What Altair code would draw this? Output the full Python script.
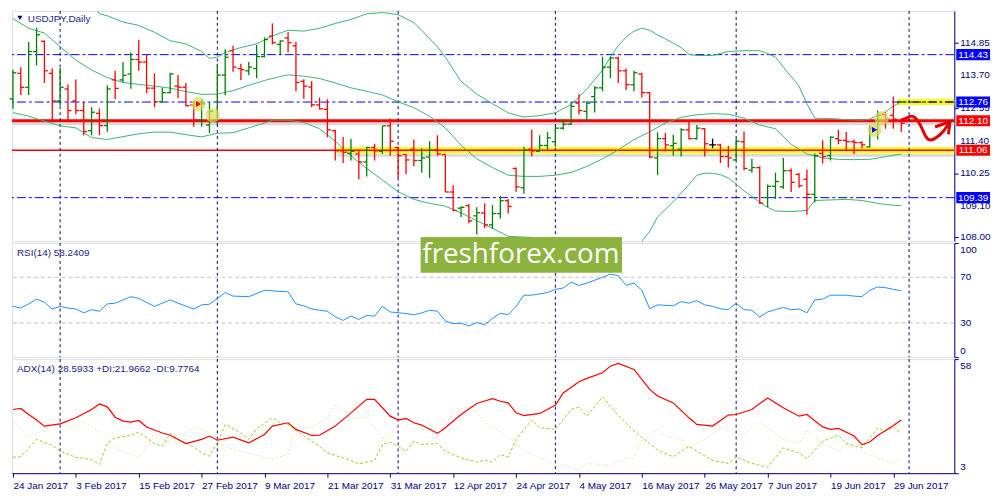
import altair as alt
import pandas as pd
import numpy as np

# ------------------------------------------------------------------ data
date_labels = ["24 Jan 2017", "3 Feb 2017", "15 Feb 2017", "27 Feb 2017", "9 Mar 2017",
               "21 Mar 2017", "31 Mar 2017", "12 Apr 2017", "24 Apr 2017", "4 May 2017",
               "16 May 2017", "26 May 2017", "7 Jun 2017", "19 Jun 2017", "29 Jun 2017"]

opens = [112.87, 113.77, 113.28, 114.54, 114.90, 113.77, 112.80, 113.22, 112.80, 112.46,
         111.75, 112.36, 111.93, 113.54, 113.54, 113.75, 114.26, 114.17, 113.25, 112.77,
         113.09, 113.32, 113.28, 112.66, 112.12, 111.95, 112.07, 113.71, 114.57, 113.94,
         113.86, 113.94, 114.36, 115.08, 114.79, 115.02, 114.74, 113.49, 113.29, 112.66,
         112.50, 111.75, 111.04, 110.95, 110.93, 110.65, 111.16, 111.02, 111.92, 111.16,
         110.91, 111.10, 110.70, 110.82, 111.07, 110.91, 109.59, 109.02, 109.11, 108.75,
         108.85, 108.43, 108.83, 109.28, 110.42, 109.74, 111.10, 111.02, 111.23, 111.36,
         111.84, 111.98, 112.72, 112.43, 112.95, 113.26, 113.99, 114.31, 113.86, 113.37,
         113.75, 113.09, 110.79, 111.47, 111.22, 111.10, 111.78, 111.47, 111.82, 111.25,
         111.25, 110.84, 110.72, 111.36, 110.36, 110.45, 109.39, 109.79, 109.77, 110.34,
         110.21, 110.04, 109.51, 110.95, 110.87, 111.47, 111.41, 111.36, 111.33, 111.18,
         111.78, 112.32, 112.29, 112.09]
highs = [113.90, 113.99, 114.88, 115.38, 114.93, 113.94, 113.96, 113.38, 113.55, 112.77,
         112.58, 112.53, 113.35, 113.86, 114.17, 114.51, 114.95, 114.43, 113.77, 113.26,
         113.79, 113.71, 113.43, 112.80, 112.86, 112.75, 114.11, 114.62, 114.74, 114.11,
         114.17, 114.77, 115.04, 115.53, 114.93, 115.22, 114.88, 113.56, 113.49, 112.92,
         112.86, 111.78, 111.53, 111.47, 111.07, 111.18, 111.29, 111.92, 112.18, 111.18,
         110.93, 111.44, 111.13, 111.38, 111.59, 110.91, 109.83, 109.08, 109.17, 109.05,
         109.19, 109.13, 109.45, 109.34, 110.45, 111.18, 111.78, 111.59, 111.70, 111.89,
         112.16, 112.75, 113.03, 112.80, 113.32, 114.36, 114.36, 114.36, 113.94, 113.86,
         113.79, 113.11, 111.70, 111.67, 111.61, 111.84, 112.12, 111.95, 111.84, 111.47,
         111.29, 111.21, 111.47, 111.72, 110.76, 110.50, 109.85, 110.27, 110.79, 110.42,
         110.25, 110.38, 110.95, 111.41, 111.55, 111.78, 111.70, 111.44, 111.38, 111.95,
         112.46, 112.40, 112.95, 112.18]
lows = [112.52, 113.01, 113.01, 114.05, 113.43, 112.09, 112.63, 112.05, 112.33, 111.59,
        111.59, 111.59, 111.71, 112.86, 113.46, 113.23, 113.86, 113.07, 112.58, 112.77,
        113.07, 112.90, 112.61, 111.89, 111.89, 111.67, 111.95, 113.00, 113.83, 113.54,
        113.71, 113.60, 114.34, 114.79, 114.45, 114.51, 113.14, 112.88, 112.58, 112.50,
        111.52, 110.70, 110.61, 110.70, 110.04, 110.14, 110.70, 110.93, 110.87, 110.08,
        110.22, 110.50, 110.27, 110.08, 110.87, 109.59, 108.91, 108.71, 108.49, 108.09,
        108.32, 108.29, 108.66, 108.83, 109.60, 109.53, 110.84, 111.02, 111.07, 111.18,
        111.78, 111.95, 112.32, 112.06, 112.39, 113.14, 113.60, 113.43, 113.18, 113.14,
        112.92, 110.79, 110.19, 111.02, 110.87, 110.84, 111.44, 111.44, 110.84, 111.13,
        110.61, 110.45, 110.70, 110.36, 110.27, 109.17, 109.05, 109.34, 109.70, 109.59,
        109.74, 108.79, 109.22, 110.59, 110.70, 111.27, 111.04, 110.93, 111.13, 111.16,
        111.44, 111.82, 111.82, 111.70]
closes = [113.79, 113.28, 114.54, 115.13, 113.86, 112.80, 113.28, 112.46, 112.46, 111.72,
          112.40, 111.93, 113.22, 113.24, 113.70, 114.26, 114.17, 113.25, 112.77, 113.09,
          113.75, 113.28, 112.63, 112.12, 112.70, 112.43, 113.71, 114.34, 113.99, 113.90,
          113.99, 114.36, 114.96, 114.85, 114.91, 114.85, 113.45, 113.32, 112.66, 112.52,
          111.78, 111.04, 110.99, 111.02, 110.65, 111.16, 111.04, 111.92, 111.38, 110.87,
          110.72, 110.70, 110.79, 111.07, 110.93, 109.59, 108.94, 109.05, 108.57, 108.86,
          108.43, 108.83, 109.28, 109.08, 109.77, 111.07, 111.04, 111.23, 111.50, 111.84,
          111.98, 112.61, 112.46, 112.72, 113.26, 113.99, 114.31, 113.86, 113.37, 113.79,
          113.09, 110.82, 111.47, 111.25, 111.30, 111.78, 111.47, 111.84, 111.29, 111.25,
          110.84, 110.79, 111.38, 110.42, 110.45, 109.20, 109.79, 109.96, 110.34, 109.93,
          109.81, 109.51, 110.87, 110.84, 111.52, 111.41, 111.36, 111.33, 111.25, 111.84,
          112.29, 112.16, 112.16, 112.01]

bb_upper_i = [0, 4, 8, 10, 11, 12, 14, 16, 18, 20, 22, 24, 25, 26, 27, 29, 31, 33, 35, 37,
              39, 41, 43, 45, 47, 49, 51, 52, 53, 54, 55, 57, 59, 61, 63, 65, 67, 69, 71, 73,
              75, 76, 77, 78, 79, 80, 81, 82, 83, 85, 86, 87, 89, 90, 91, 93, 95, 96, 97, 98,
              99, 100, 101, 102, 104, 106, 108, 109, 110, 111, 112, 113]
bb_upper = [119.0, 118.3, 116.6, 116.3, 115.87, 115.80, 115.58, 115.46, 115.22, 114.92,
            114.81, 114.54, 114.30, 114.34, 114.51, 114.68, 114.81, 115.09, 115.29, 115.26,
            115.36, 115.53, 115.67, 115.87, 115.91, 115.84, 115.56, 115.29, 114.99, 114.71,
            114.34, 113.49, 113.04, 112.70, 112.38, 112.23, 112.28, 112.38, 112.67, 113.21,
            113.89, 114.34, 114.75, 115.05, 115.26, 115.36, 115.29, 115.12, 114.99, 114.68,
            114.44, 114.40, 114.40, 114.47, 114.54, 114.57, 114.57, 114.47, 114.34, 113.99,
            113.66, 113.32, 112.70, 112.19, 112.18, 112.14, 112.12, 112.16, 112.29, 112.41,
            112.62, 112.77]
bb_mid_i = [0, 2, 4, 6, 8, 10, 12, 14, 16, 18, 20, 22, 24, 26, 28, 30, 32, 34, 35, 37,
            39, 41, 43, 45, 47, 49, 51, 53, 55, 57, 59, 61, 63, 65, 67, 69, 71, 73, 75, 77,
            79, 81, 83, 85, 87, 89, 91, 93, 95, 97, 99, 101, 103, 105, 107, 109, 111, 113]
bb_mid = [115.70, 115.36, 115.19, 114.71, 114.24, 113.89, 113.62, 113.45, 113.38, 113.32,
          113.25, 113.13, 113.03, 113.04, 113.16, 113.35, 113.52, 113.66, 113.72, 113.67,
          113.59, 113.43, 113.26, 113.14, 113.01, 112.77, 112.56, 112.26, 111.85, 111.24,
          110.76, 110.45, 110.18, 110.14, 110.14, 110.18, 110.28, 110.49, 110.76, 111.07,
          111.44, 111.71, 112.02, 112.22, 112.31, 112.35, 112.33, 112.19, 111.95, 111.82,
          111.27, 110.93, 110.79, 110.74, 110.73, 110.74, 110.83, 110.93]
bb_lower_i = [0, 2, 4, 6, 8, 9, 10, 12, 14, 16, 18, 20, 22, 24, 26, 28, 30, 32, 33, 35,
              37, 39, 41, 43, 45, 47, 49, 51, 53, 55, 57, 59, 61, 63, 65, 67, 69, 71, 73, 75,
              77, 79, 80, 81, 82, 83, 84, 85, 86, 87, 88, 89, 90, 91, 92, 93, 94, 95, 96, 97,
              99, 101, 102, 104, 106, 108, 110, 112, 113]
bb_lower = [112.39, 112.26, 112.09, 111.92, 111.85, 111.68, 111.51, 111.44, 111.54, 111.64,
            111.70, 111.70, 111.61, 111.53, 111.66, 111.68, 111.85, 112.02, 112.12, 112.12,
            112.04, 111.82, 111.38, 110.86, 110.42, 110.01, 109.60, 109.33, 109.19, 109.09,
            108.85, 108.58, 108.31, 108.03, 108.00, 107.98, 107.98, 107.90, 107.77, 107.63,
            107.40, 107.60, 107.85, 108.20, 108.71, 108.98, 109.25, 109.55, 109.85, 110.18,
            110.25, 110.25, 110.20, 110.08, 109.87, 109.63, 109.43, 109.23, 109.05, 108.92,
            108.90, 108.94, 109.29, 109.31, 109.33, 109.29, 109.19, 109.12, 109.11]

rsi_i = [0, 1, 2, 3, 4, 5, 6, 7, 8, 9, 10, 11, 12, 13, 14, 15, 16, 18, 20, 21,
         23, 24, 25, 26, 27, 28, 30, 32, 33, 35, 36, 37, 38, 40, 41, 42, 43, 44, 45, 46,
         47, 48, 50, 51, 52, 53, 54, 55, 56, 57, 58, 59, 60, 61, 62, 63, 64, 65, 66, 68,
         69, 70, 71, 72, 73, 75, 76, 77, 78, 79, 80, 81, 82, 84, 85, 86, 87, 88, 89, 90,
         91, 92, 93, 94, 95, 96, 97, 98, 99, 100, 101, 102, 103, 104, 106, 107, 108, 109, 110, 111,
         112, 113]
rsi_v = [44.5, 43.0, 46.7, 50.9, 48.1, 42.2, 44.5, 43.0, 42.2, 38.8, 41.6, 40.2, 46.7, 47.3, 50.1, 53.0, 51.5, 44.5, 50.1, 47.3,
         42.2, 45.8, 46.4, 51.5, 56.6, 53.5, 53.0, 58.6, 58.1, 57.2, 46.7, 45.0, 42.2, 40.2, 35.4, 32.2, 36.0, 33.1, 36.5, 36.0,
         44.5, 39.6, 38.2, 37.1, 38.8, 41.1, 40.2, 31.7, 29.4, 29.7, 27.4, 30.3, 28.3, 33.9, 38.5, 37.3, 44.5, 54.3, 54.3, 56.6,
         59.4, 60.6, 65.7, 62.9, 64.9, 70.0, 72.8, 71.4, 62.9, 64.9, 58.6, 42.4, 45.8, 45.0, 48.7, 47.3, 49.6, 45.8, 44.5, 42.4,
         41.6, 47.3, 41.6, 41.1, 35.1, 39.6, 41.6, 43.6, 41.6, 42.2, 38.8, 50.1, 50.9, 54.3, 54.3, 53.5, 53.0, 58.6, 61.5, 60.9,
         59.4, 58.2]

adx_i = [0, 1, 2, 3, 4, 6, 8, 10, 11, 12, 13, 14, 15, 16, 17, 19, 20, 22, 24, 25,
         26, 28, 30, 32, 33, 35, 36, 38, 39, 41, 43, 45, 46, 48, 49, 50, 51, 52, 54, 55,
         57, 59, 61, 62, 63, 64, 65, 67, 69, 70, 72, 73, 75, 76, 77, 79, 80, 81, 82, 84,
         86, 87, 89, 91, 92, 94, 96, 98, 100, 101, 103, 104, 105, 107, 108, 109, 110, 112, 113]
adx_v = [33.7, 34.2, 31.3, 28.6, 25.7, 26.8, 29.7, 33.7, 36.4, 35.0, 30.0, 28.1, 27.6, 28.4, 25.3, 22.4, 21.3, 17.3, 19.3, 20.9,
         18.9, 20.4, 17.6, 21.7, 25.7, 27.3, 24.1, 21.2, 21.3, 25.7, 32.1, 38.6, 38.6, 30.5, 28.6, 29.4, 27.3, 26.2, 22.2, 24.9,
         31.3, 36.6, 38.9, 37.7, 36.9, 32.1, 30.8, 31.8, 35.7, 41.7, 47.1, 48.7, 51.4, 54.6, 55.9, 53.0, 48.2, 43.4, 40.2, 36.9,
         29.7, 26.5, 25.7, 31.0, 31.3, 33.7, 39.3, 34.5, 30.5, 31.3, 25.3, 24.1, 24.6, 20.9, 16.8, 18.0, 21.2, 26.0, 28.6]
pdi_i = [0, 1, 2, 3, 5, 6, 8, 10, 11, 12, 13, 15, 16, 17, 18, 19, 20, 21, 23, 24,
         25, 26, 27, 29, 30, 31, 33, 34, 35, 37, 39, 40, 42, 44, 46, 47, 48, 49, 50, 51,
         52, 54, 55, 57, 59, 60, 61, 62, 63, 64, 66, 67, 69, 71, 72, 73, 75, 77, 79, 81,
         82, 84, 86, 87, 89, 91, 92, 94, 96, 98, 100, 101, 103, 105, 106, 108, 110, 111, 112, 113]
pdi_v = [10.7, 10.9, 15.2, 19.3, 16.4, 13.6, 10.7, 9.6, 7.2, 17.3, 20.0, 21.2, 22.8, 20.0, 17.3, 16.0, 22.2, 19.3, 15.7, 12.8,
         11.2, 17.6, 26.5, 22.4, 19.3, 24.4, 29.7, 27.3, 26.5, 20.9, 16.0, 12.8, 10.4, 7.5, 9.1, 16.8, 18.0, 16.0, 13.6, 18.4,
         16.8, 17.3, 13.6, 10.4, 8.3, 9.3, 8.3, 12.0, 10.7, 19.3, 28.6, 24.9, 24.1, 33.7, 34.8, 30.5, 39.8, 30.8, 23.3, 17.3,
         14.1, 10.9, 16.0, 13.6, 9.1, 7.7, 10.9, 7.7, 5.9, 15.2, 12.8, 9.9, 18.4, 21.3, 17.3, 15.2, 24.9, 23.3, 25.3, 22.0]
mdi_i = [0, 2, 4, 5, 6, 8, 9, 11, 13, 16, 17, 18, 20, 21, 23, 25, 26, 28, 30, 33,
         35, 36, 38, 40, 41, 43, 45, 46, 47, 49, 50, 52, 54, 55, 56, 58, 59, 60, 62, 64,
         65, 67, 69, 72, 73, 75, 76, 78, 79, 80, 82, 83, 85, 86, 88, 90, 91, 92, 93, 95,
         96, 98, 100, 101, 103, 105, 106, 108, 110, 112, 113]
mdi_v = [27.6, 20.9, 23.7, 29.7, 27.3, 24.1, 28.1, 23.3, 15.2, 10.4, 16.0, 22.4, 17.3, 18.9, 25.2, 22.2, 18.0, 14.4, 12.8, 9.6,
         12.3, 24.9, 25.2, 29.7, 36.1, 29.4, 30.2, 24.9, 19.3, 25.7, 29.7, 24.9, 22.4, 24.5, 33.5, 34.8, 32.1, 27.3, 23.2, 17.3,
         14.1, 10.4, 7.2, 4.8, 7.7, 7.2, 6.4, 10.4, 10.4, 19.3, 24.1, 20.9, 19.3, 15.2, 19.3, 25.3, 23.3, 21.7, 21.7, 28.1,
         24.9, 19.3, 17.6, 23.3, 17.6, 13.6, 16.8, 13.6, 10.4, 7.7, 9.8]

price_ticks = [108.00, 109.10, 110.25, 111.40, 112.55, 113.70, 114.85]
blue_levels = [114.43, 112.76, 109.39]
red_thick_level = 112.10
red_level = 111.06
red_level_highlight_from = 41.25
blue_level_highlight = 112.76
blue_level_highlight_from = 112.5
box_prices = [114.43, 112.76, 112.10, 111.06, 109.39]
separator_i = [6, 26, 49, 69, 92, 114]
rsi_levels = [30, 70]
rsi_mid_ticks = [30, 70]
rsi_top_tick, rsi_bottom_tick = 100, 0
adx_top_tick, adx_bottom_tick = 58, 3

circle_i = [23.6, 25.4, 110.5, 109.6]
circle_p = [112.69, 112.29, 112.18, 111.78]
arrow_i = [113.0, 113.6, 114.2, 114.8, 115.5, 116.1, 116.7, 117.5, 118.4, 119.2]
arrow_p = [112.12, 112.18, 112.29, 112.23, 111.95, 111.50, 111.38, 111.50, 111.72, 112.07]
head_i = [117.3, 119.2, 119.0]
head_p = [111.88, 112.07, 111.62]

# ------------------------------------------------------------------ style
W = 950
H_PRICE, H_RSI, H_ADX = 232, 115, 115
X_DOMAIN = [-0.125, 119.75]
P_DOMAIN = [107.86, 115.97]
NAVY = "#000080"
UP, DOWN, DOJI = "#008000", "#FF0000", "#000000"
BB = "#3CB371"
FONT = "Liberation Sans"
FS = 10
BOX_SHAPE = "M-1,-0.33L1,-0.33L1,0.33L-1,0.33Z"
BOX_SIZE = 1156

xs = alt.Scale(domain=X_DOMAIN, nice=False, zero=False)
ps = alt.Scale(domain=P_DOMAIN, nice=False, zero=False)
rs = alt.Scale(domain=[0, 100], nice=False, zero=False)
ads = alt.Scale(domain=[3, 58], nice=False, zero=False)


def X(f):            # x without any axis (price / RSI panels)
    return alt.X(f, type="quantitative", scale=xs, axis=None, title=None)


def XA(f):           # x whose axis comes from another layer (ADX panel)
    return alt.X(f, type="quantitative", scale=xs, title=None)


def YS(f, scale):
    return alt.Y(f, type="quantitative", scale=scale, title=None)


def YP(f):
    return YS(f, ps)


def right_axis(values):
    return alt.Axis(orient="right", values=values, labels=False, domainColor=NAVY,
                    tickColor=NAVY, tickSize=4, grid=False, title=None)


def tick_labels(values, scale, baseline, dy, fmt):
    df = pd.DataFrame({"v": values})
    df["t"] = df.v.map(lambda v: format(v, fmt))
    return alt.Chart(df).mark_text(align="left", baseline=baseline, dy=dy, font=FONT,
                                   fontSize=FS, color=NAVY).encode(
        x=alt.value(W + 6), y=YS("v", scale), text="t:N")


def panel_label(text):
    return alt.Chart(pd.DataFrame({"t": [text]})).mark_text(
        align="left", baseline="middle", font=FONT, fontSize=FS, color="#1A1A80").encode(
        x=alt.value(5), y=alt.value(10), text="t:N")


one = pd.DataFrame({"k": [0]})


def separators(xf):
    return alt.Chart(pd.DataFrame({"i": separator_i})).mark_rule(
        color=NAVY, strokeWidth=1, strokeDash=[3, 3]).encode(x=xf("i"))


# ------------------------------------------------------------------ price panel
bars = pd.DataFrame({"i": range(len(opens)), "o": opens, "h": highs, "l": lows, "c": closes})
bars["col"] = np.where(bars.c > bars.o, UP, np.where(bars.c < bars.o, DOWN, DOJI))

red_hl = pd.DataFrame({"p": [red_level], "x0": [red_level_highlight_from]})
blue_hl = pd.DataFrame({"p": [blue_level_highlight], "x0": [blue_level_highlight_from]})

price_axis_layer = alt.Chart(pd.DataFrame({"p": price_ticks})).mark_tick(opacity=0).encode(
    y=alt.Y("p:Q", scale=ps, axis=right_axis(price_ticks), title=None))

shadow_thick = alt.Chart(pd.DataFrame({"p": [red_thick_level]})).mark_rule(
    color="#DADADA", strokeWidth=3, yOffset=3).encode(y=YP("p"))
shadow_red = alt.Chart(red_hl).mark_rule(color="#BBBBBB", strokeWidth=3, yOffset=5, opacity=0.55).encode(
    x=X("x0"), x2=alt.value(W), y=YP("p"))
yellow_red = alt.Chart(red_hl).mark_rule(color="#FFFF00", strokeWidth=6).encode(
    x=X("x0"), x2=alt.value(W), y=YP("p"))
yellow_blue = alt.Chart(blue_hl).mark_rule(color="#FFFF00", strokeWidth=6).encode(
    x=X("x0"), x2=alt.value(W), y=YP("p"))
blue_lines = alt.Chart(pd.DataFrame({"p": blue_levels})).mark_rule(
    color="#0000FF", strokeWidth=1, strokeDash=[9, 3, 3, 3]).encode(y=YP("p"))
red_thick = alt.Chart(pd.DataFrame({"p": [red_thick_level]})).mark_rule(
    color="#FF0000", strokeWidth=3).encode(y=YP("p"))
red_thin = alt.Chart(pd.DataFrame({"p": [red_level]})).mark_rule(
    color="#FF0000", strokeWidth=1.6).encode(y=YP("p"))
black_blue = alt.Chart(blue_hl).mark_rule(color="#000000", strokeWidth=1, strokeDash=[8, 3, 2, 3]).encode(
    x=X("x0"), x2=alt.value(W), y=YP("p"))


def band(ii, vv):
    return alt.Chart(pd.DataFrame({"i": ii, "v": vv})).mark_line(
        color=BB, strokeWidth=1, clip=True).encode(x=X("i"), y=YP("v"))


hl = alt.Chart(bars).mark_rule(strokeWidth=1.3).encode(
    x=X("i"), y=YP("l"), y2="h:Q", color=alt.Color("col:N", scale=None))
open_tick = alt.Chart(bars).mark_rule(strokeWidth=1.3, xOffset=-3.5).encode(
    x=X("i"), x2="i:Q", y=YP("o"), color=alt.Color("col:N", scale=None))
close_tick = alt.Chart(bars).mark_rule(strokeWidth=1.3, x2Offset=3.5).encode(
    x=X("i"), x2="i:Q", y=YP("c"), color=alt.Color("col:N", scale=None))

circles = alt.Chart(pd.DataFrame({"i": circle_i, "p": circle_p})).mark_circle(
    size=210, color="#DADA5A", opacity=0.7).encode(x=X("i"), y=YP("p"))
trade_marks = alt.Chart(pd.DataFrame({"i": [circle_i[0], circle_i[3]], "p": [circle_p[0], circle_p[3]],
                                      "col": ["#FF0000", "#0000FF"]})).mark_point(
    shape="triangle-right", filled=True, size=35, opacity=1).encode(
    x=X("i"), y=YP("p"), color=alt.Color("col:N", scale=None))

arrow = alt.Chart(pd.DataFrame({"i": arrow_i, "p": arrow_p})).mark_line(
    color="#E00000", strokeWidth=3, interpolate="basis").encode(x=X("i"), y=YP("p"))
head = alt.Chart(pd.DataFrame({"i": head_i, "p": head_p, "k": range(len(head_i))})).mark_line(
    color="#E00000", strokeWidth=3).encode(x=X("i"), y=YP("p"), order="k:Q")

title_tri = alt.Chart(one).mark_point(shape="triangle-down", filled=True, size=26, color=NAVY,
                                      opacity=1).encode(x=alt.value(8), y=alt.value(7))
title_txt = alt.Chart(pd.DataFrame({"t": ["USDJPY,Daily"]})).mark_text(
    align="left", baseline="middle", font=FONT, fontSize=FS, color="#25258F").encode(
    x=alt.value(16), y=alt.value(8), text="t:N")

boxes_df = pd.DataFrame({"p": box_prices})
boxes_df["lbl"] = boxes_df.p.map(lambda v: f"{v:.2f}")
boxes_df["col"] = np.where(boxes_df.p.isin([red_thick_level, red_level]), "#FF0000", "#0000FF")
box_bg = alt.Chart(boxes_df).mark_point(shape=BOX_SHAPE, filled=True, size=BOX_SIZE, opacity=1,
                                        strokeWidth=0).encode(
    x=alt.value(W + 19), y=YP("p"), color=alt.Color("col:N", scale=None))
box_txt = alt.Chart(boxes_df).mark_text(font=FONT, fontSize=FS, color="white", align="center",
                                        baseline="middle").encode(
    x=alt.value(W + 19), y=YP("p"), text="lbl:N")

price = alt.layer(
    price_axis_layer,
    shadow_thick, shadow_red, yellow_red, yellow_blue, blue_lines, red_thick, red_thin, black_blue,
    separators(X), band(bb_upper_i, bb_upper), band(bb_mid_i, bb_mid), band(bb_lower_i, bb_lower),
    hl, open_tick, close_tick, circles, trade_marks, arrow, head, title_tri, title_txt,
    tick_labels(price_ticks, ps, "middle", 0, ".2f"), box_bg, box_txt
).properties(width=W, height=H_PRICE)

# ------------------------------------------------------------------ RSI panel
rsi_all_ticks = [rsi_bottom_tick] + rsi_mid_ticks + [rsi_top_tick]
rsi_axis_layer = alt.Chart(pd.DataFrame({"v": rsi_all_ticks})).mark_tick(opacity=0).encode(
    y=alt.Y("v:Q", scale=rs, axis=right_axis(rsi_all_ticks), title=None))
rsi_line = alt.Chart(pd.DataFrame({"i": rsi_i, "v": rsi_v})).mark_line(
    color="#1E90FF", strokeWidth=1).encode(x=X("i"), y=YS("v", rs))
rsi_lv = alt.Chart(pd.DataFrame({"v": rsi_levels})).mark_rule(
    color="#C0C0C0", strokeWidth=1, strokeDash=[4, 3]).encode(y=YS("v", rs))
wm_box = alt.Chart(one).mark_rect(color="#8DB33F", opacity=1).encode(
    x=alt.value(412), x2=alt.value(615), y=alt.value(-6), y2=alt.value(30))
wm_txt = alt.Chart(pd.DataFrame({"t": ["freshforex.com"]})).mark_text(
    font="Open Sans", fontSize=28, color="white", align="center", baseline="middle").encode(
    x=alt.value(513), y=alt.value(12), text="t:N")

rsi = alt.layer(
    rsi_axis_layer, rsi_lv, separators(X), rsi_line, panel_label("RSI(14) 58.2409"),
    tick_labels(rsi_mid_ticks, rs, "middle", 0, "d"),
    tick_labels([rsi_top_tick], rs, "top", 2, "d"),
    tick_labels([rsi_bottom_tick], rs, "bottom", -1, "d"),
    wm_box, wm_txt
).properties(width=W, height=H_RSI)

# ------------------------------------------------------------------ ADX panel
label_expr = "[" + ",".join(f"'{s}'" for s in date_labels) + "][round(datum.value / 8)]"
x_axis = alt.Axis(values=list(range(0, 8 * len(date_labels), 8)), labelExpr=label_expr,
                  labelAlign="left", labelColor=NAVY, tickColor=NAVY, domainColor=NAVY,
                  tickSize=4, labelFont=FONT, labelFontSize=FS, labelPadding=3, grid=False,
                  title=None, labelFlush=False, labelOverlap=False)

adx_axis_layer = alt.Chart(pd.DataFrame({"i": [0], "v": [adx_bottom_tick]})).mark_point(opacity=0).encode(
    x=alt.X("i:Q", scale=xs, axis=x_axis, title=None),
    y=alt.Y("v:Q", scale=ads, axis=right_axis([adx_bottom_tick, adx_top_tick]), title=None))
adx_line = alt.Chart(pd.DataFrame({"i": adx_i, "v": adx_v})).mark_line(
    color="#FF0000", strokeWidth=1.2).encode(x=XA("i"), y=YS("v", ads))
pdi_line = alt.Chart(pd.DataFrame({"i": pdi_i, "v": pdi_v})).mark_line(
    color="#9ACD32", strokeWidth=1, strokeDash=[3, 2]).encode(x=XA("i"), y=YS("v", ads))
mdi_line = alt.Chart(pd.DataFrame({"i": mdi_i, "v": mdi_v})).mark_line(
    color="#F5DEB3", strokeWidth=1, strokeDash=[2, 2]).encode(x=XA("i"), y=YS("v", ads))

adx = alt.layer(
    adx_axis_layer, separators(XA), mdi_line, pdi_line, adx_line,
    panel_label("ADX(14) 28.5933 +DI:21.9662 -DI:9.7764"),
    tick_labels([adx_top_tick], ads, "top", 2, "d"),
    tick_labels([adx_bottom_tick], ads, "bottom", -1, "d")
).properties(width=W, height=H_ADX)

chart = alt.vconcat(price, rsi, adx, spacing=2, padding=0, bounds="flush").configure_view(
    stroke=NAVY, strokeWidth=1).configure(background="white")

chart.save("out.html", embed_options={"renderer": "svg", "actions": False})
